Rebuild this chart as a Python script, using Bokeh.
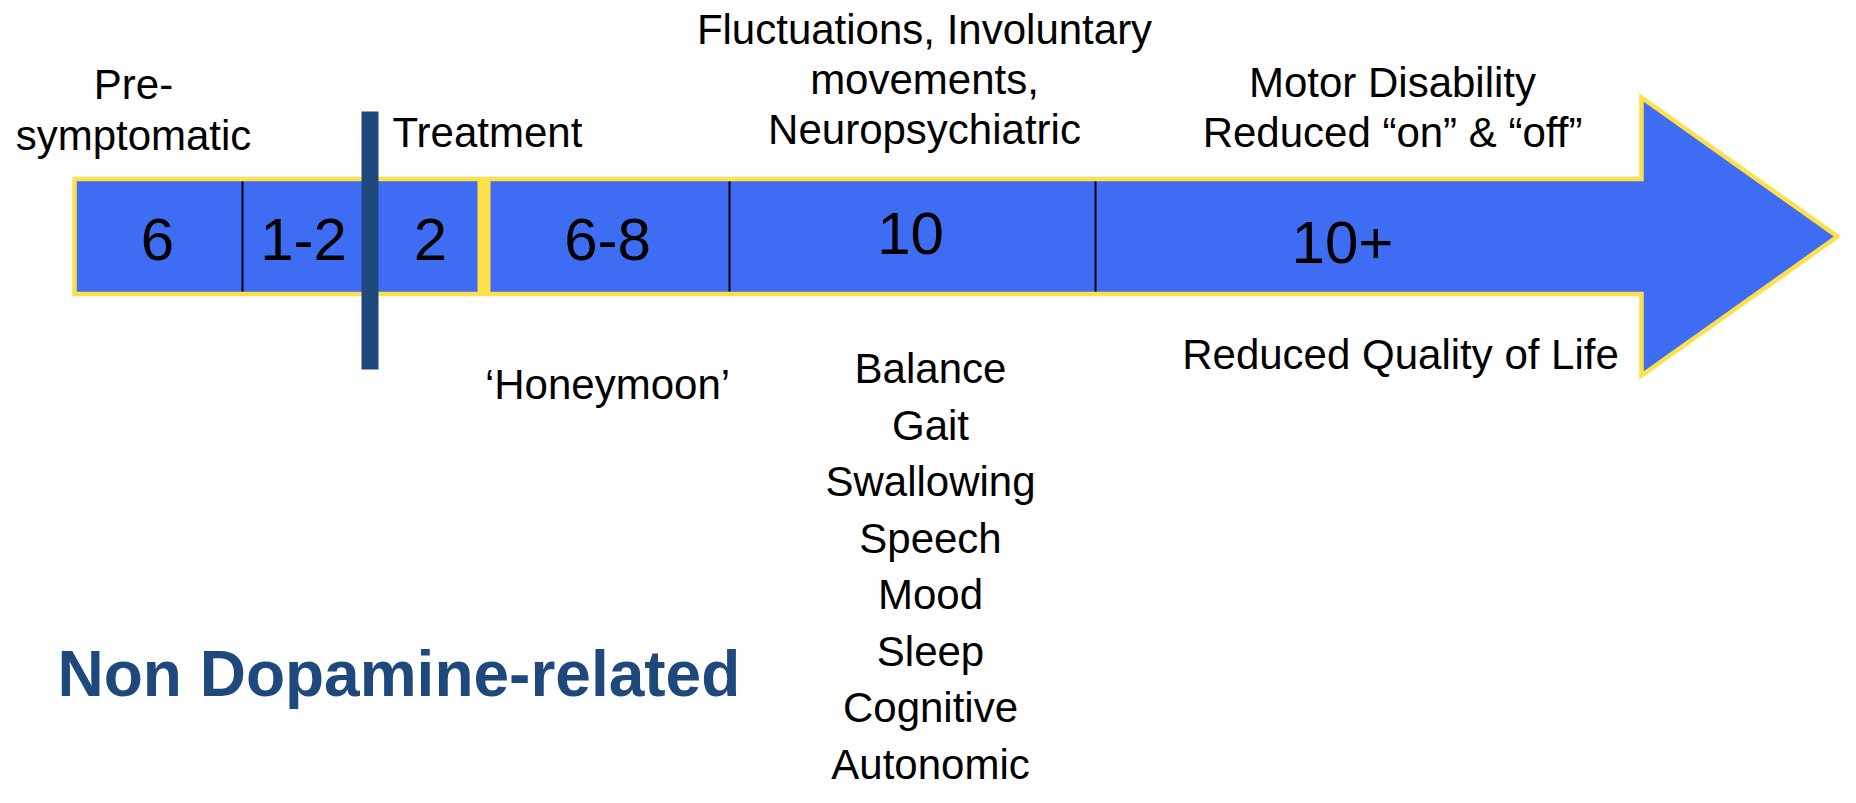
from bokeh.plotting import figure
from bokeh.models import Range1d
from bokeh.core.properties import value
from bokeh.embed import file_html
from bokeh.resources import INLINE

# ---- data ----
stage_labels = ["6", "1-2", "2", "6-8", "10", "10+"]
stage_label_x = [156, 302, 429, 606, 909, 1341]
stage_label_y = [240, 240, 240, 240, 234, 243]
divider_x = [241, 728, 1094]

top_left_lines = ["Pre-", "symptomatic"]
top_mid_lines = ["Fluctuations, Involuntary", "movements,", "Neuropsychiatric"]
top_right_lines = ["Motor Disability", "Reduced \u201con\u201d & \u201coff\u201d"]
symptom_list = ["Balance", "Gait", "Swallowing", "Speech", "Mood", "Sleep", "Cognitive", "Autonomic"]

BLUE = "#3E6CF2"
YELLOW = "#FFE04B"
NAVY = "#1F497D"
FONT = value("Liberation Sans")

p = figure(width=1840, height=787, x_range=Range1d(-1, 1839), y_range=Range1d(788, 1),
           output_backend="svg", toolbar_location=None, min_border=0)
p.axis.visible = False
p.grid.visible = False
p.outline_line_color = None
p.background_fill_color = "white"
p.border_fill_color = "white"

# arrow body
bx0, bx1, by0, by1 = 73, 1640, 179.5, 294.5
hy0, hy1, tipx = 98, 376, 1836
tipy = (by0 + by1) / 2
p.patch([bx0, bx1, bx1, tipx, bx1, bx1, bx0], [by0, by0, hy0, tipy, hy1, by1, by1],
        fill_color=BLUE, line_color=YELLOW, line_width=4.5, line_join="miter")

# thin dividers
p.segment(x0=divider_x, y0=[182] * 3, x1=divider_x, y1=[292] * 3, line_color="black", line_width=2)
# yellow separator
p.quad(left=[476], right=[489], top=[178], bottom=[296.5], fill_color=YELLOW, line_color=None)
# treatment bar
p.quad(left=[360], right=[377], top=[112], bottom=[370], fill_color=NAVY, line_color=None)

# stage numbers
p.text(x=stage_label_x, y=stage_label_y, text=stage_labels, text_font=FONT, text_font_size="60px",
       text_align="center", text_baseline="middle", text_color="black")

def lines(texts, x, y0, dy, size="42px", align="center", color="black", style="normal"):
    p.text(x=[x] * len(texts), y=[y0 + i * dy for i in range(len(texts))], text=texts,
           text_font=FONT, text_font_size=size, text_align=align, text_baseline="middle",
           text_color=color, text_font_style=style)

lines(top_left_lines, 132, 85, 51)
lines(["Treatment"], 391, 133, 0, align="left")
lines(top_mid_lines, 923, 30, 50)
lines(top_right_lines, 1391, 83, 50)
lines(["\u2018Honeymoon\u2019"], 606, 385, 0)
lines(["Reduced Quality of Life"], 1399, 355, 0)
lines(symptom_list, 929, 369, 56.5)
lines(["Non Dopamine-related"], 56, 674, 0, size="64px", align="left", color=NAVY, style="bold")

open("out.html", "w").write(file_html(p, INLINE))
